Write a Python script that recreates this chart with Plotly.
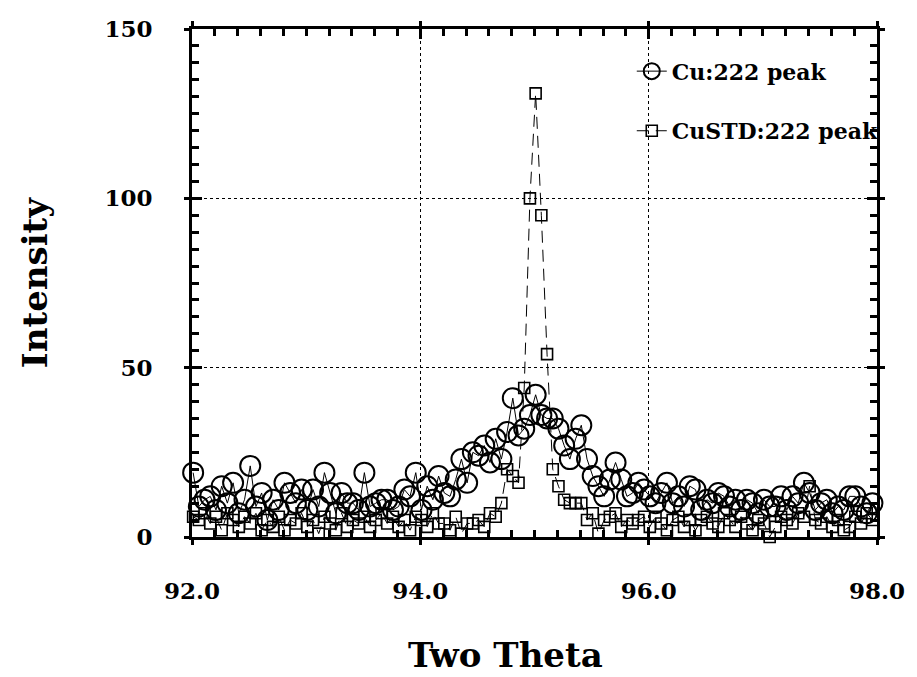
import plotly.graph_objects as go

# Two-theta positions (step 0.05)
two_theta = [round(92.01 + 0.05 * i, 2) for i in range(121)]

cu_222 = [
    19, 9, 11, 12, 8, 15, 10, 16, 7, 11,
    21, 9, 13, 5, 11, 8, 16, 13, 10, 14,
    8, 14, 9, 19, 13, 7, 13, 10, 10, 8,
    19, 9, 10, 11, 11, 8, 9, 14, 12, 19,
    8, 15, 11, 18, 13, 12, 17, 23, 16, 25,
    24, 27, 22, 29, 23, 31, 41, 30, 32, 36,
    42, 36, 35, 35, 32, 27, 23, 29, 33, 23,
    18, 15, 12, 17, 22, 17, 12, 13, 16, 14,
    12, 10, 13, 16, 10, 12, 9, 15, 14, 8,
    11, 10, 13, 12, 9, 11, 8, 11, 10, 7,
    11, 9, 9, 12, 8, 12, 10, 16, 13, 8,
    10, 11, 7, 9, 8, 12, 12, 9, 7, 10,
    8,
]

custd_222 = [
    6, 5, 7, 4, 6, 2, 7, 5, 3, 6,
    4, 7, 2, 5, 3, 6, 2, 5, 4, 7,
    3, 5, 1, 6, 4, 2, 7, 3, 5, 4,
    6, 3, 5, 7, 4, 6, 3, 5, 2, 6,
    5, 3, 7, 4, 4, 2, 6, 1, 4, 4,
    5, 3, 7, 6, 10, 20, 18, 16, 44, 100,
    131, 95, 54, 20, 15, 11, 10, 10, 10, 5,
    7, 1, 5, 6, 7, 3, 5, 4, 5, 6,
    3, 6, 4, 2, 5, 6, 3, 5, 2, 5,
    6, 4, 3, 7, 5, 3, 6, 4, 2, 5,
    4, 0, 3, 6, 5, 4, 7, 6, 15, 5,
    4, 6, 3, 5, 2, 3, 6, 4, 7, 5,
    6,
]

x_ticks = [92, 94, 96, 98]
x_tick_labels = ["92.0", "94.0", "96.0", "98.0"]
y_ticks = [0, 50, 100, 150]
y_tick_labels = ["0", "50", "100", "150"]

FONT = "DejaVu Serif"

fig = go.Figure()
fig.add_trace(go.Scatter(
    x=two_theta, y=cu_222, mode="lines+markers", name="Cu:222 peak",
    legendgroup="a",
    line=dict(color="black", width=1),
    marker=dict(symbol="circle-open", size=20, color="black", line=dict(width=2)),
    cliponaxis=False,
))
fig.add_trace(go.Scatter(
    x=two_theta, y=custd_222, mode="lines+markers", name="CuSTD:222 peak",
    legendgroup="b",
    line=dict(color="black", width=1, dash="12px,7px"),
    marker=dict(symbol="square-open", size=11, color="black", line=dict(width=1.6)),
    cliponaxis=False,
))

axis_common = dict(
    showline=True, linecolor="black", linewidth=3, mirror="ticks",
    ticks="inside", ticklen=10, tickwidth=2.5, tickcolor="black",
    showgrid=True, gridcolor="black", gridwidth=1, griddash="dot",
    zeroline=False,
    tickfont=dict(family=FONT, size=23, color="black", weight="bold"),
)

fig.update_layout(
    width=917, height=677,
    margin=dict(l=192, r=40, t=29, b=140),
    paper_bgcolor="white", plot_bgcolor="white",
    showlegend=True,
    legend=dict(
        x=0.642, y=0.958, xanchor="left", yanchor="top",
        bgcolor="rgba(0,0,0,0)", tracegroupgap=28,
        font=dict(family=FONT, size=22, color="black", weight="bold"),
        itemwidth=30,
    ),
    xaxis=dict(
        range=[92, 98], tickvals=x_ticks, ticktext=x_tick_labels,
        minor=dict(dtick=0.2, ticks="inside", ticklen=7, tickwidth=2.5, tickcolor="black", showgrid=False),
        ticklabelstandoff=31,
        **axis_common,
    ),
    yaxis=dict(
        range=[0, 150], tickvals=y_ticks, ticktext=y_tick_labels,
        minor=dict(dtick=5, ticks="inside", ticklen=7, tickwidth=2.5, tickcolor="black", showgrid=False),
        ticklabelstandoff=32,
        **axis_common,
    ),
    xaxis2=dict(
        overlaying="x", matches="x", range=[92, 98], tickvals=x_ticks,
        showticklabels=False, ticks="outside", ticklen=7, tickwidth=2.5, tickcolor="black",
        mirror="ticks", showline=False, showgrid=False, zeroline=False, side="bottom",
    ),
    yaxis2=dict(
        overlaying="y", matches="y", range=[0, 150], tickvals=y_ticks,
        showticklabels=False, ticks="outside", ticklen=7, tickwidth=2.5, tickcolor="black",
        mirror="ticks", showline=False, showgrid=False, zeroline=False, side="left",
    ),
    annotations=[
        dict(text="Two Theta", xref="paper", yref="paper", x=0.457, y=-0.232,
             xanchor="center", yanchor="middle", showarrow=False,
             font=dict(family=FONT, size=34, color="black", weight="bold")),
        dict(text="Intensity", xref="paper", yref="paper", x=-0.229, y=0.5,
             xanchor="center", yanchor="middle", showarrow=False, textangle=-90,
             font=dict(family=FONT, size=34, color="black", weight="bold")),
    ],
)

# invisible trace to activate the secondary (outside tick) axes
fig.add_trace(go.Scatter(x=[92], y=[0], xaxis="x2", yaxis="y2", mode="markers",
                         marker=dict(opacity=0), showlegend=False, hoverinfo="skip"))

fig.write_html("out.html")
